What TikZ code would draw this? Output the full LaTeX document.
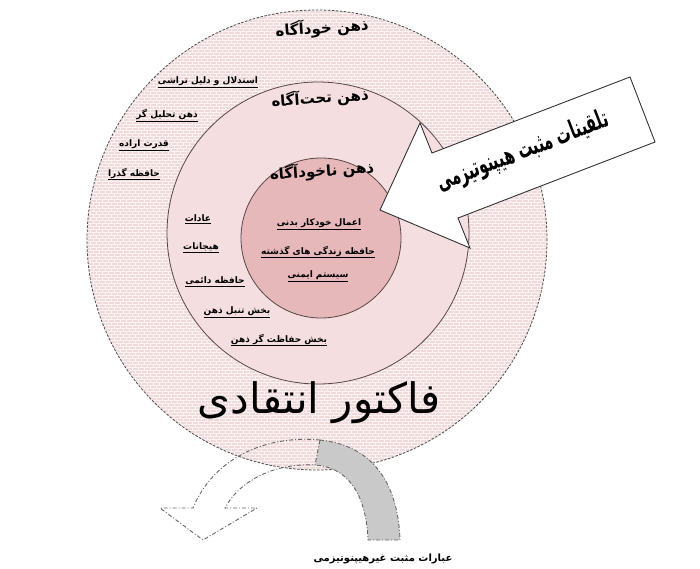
\documentclass[tikz,border=0pt]{standalone}
\usepackage{fontspec}
\usepackage{graphicx}
\usetikzlibrary{patterns}
\TeXXeTstate=1
\newfontfamily\arabicfont[Script=Arabic]{DejaVu Sans}
\newcommand\fa[1]{{\arabicfont\beginR #1\endR}}
\newcommand\ufa[1]{\underline{\hbox{\arabicfont\beginR #1\endR}}}
\pgfdeclarepatternformonly{pinkbricks}{\pgfqpoint{-1pt}{-1pt}}{\pgfqpoint{7pt}{7pt}}{\pgfqpoint{6pt}{6pt}}{%
 \pgfsetlinewidth{0.5pt}%
 \pgfpathmoveto{\pgfqpoint{0pt}{0pt}}\pgfpathlineto{\pgfqpoint{6pt}{0pt}}%
 \pgfpathmoveto{\pgfqpoint{0pt}{3pt}}\pgfpathlineto{\pgfqpoint{6pt}{3pt}}%
 \pgfpathmoveto{\pgfqpoint{0pt}{0pt}}\pgfpathlineto{\pgfqpoint{0pt}{3pt}}%
 \pgfpathmoveto{\pgfqpoint{3pt}{3pt}}\pgfpathlineto{\pgfqpoint{3pt}{6pt}}%
 \pgfusepath{stroke}}
\definecolor{outerpink}{HTML}{EFD9D9}
\definecolor{brickline}{HTML}{FBF3F3}
\definecolor{midpink}{HTML}{F4DEDF}
\definecolor{innerpink}{HTML}{E6B8BA}
\definecolor{ringline}{HTML}{5A4646}
\definecolor{bandgray}{HTML}{C9C9C9}
\tikzset{
  ringtitle/.style={font=\fontsize{15}{16}\selectfont\bfseries, inner sep=0pt},
  lab/.style={font=\fontsize{9}{10}\selectfont\bfseries, inner sep=0pt},
  dashline/.style={draw=black!70, line width=0.8pt, dash pattern=on 2.5pt off 1.5pt},
  arrowline/.style={draw=black!60, line width=0.9pt, dash pattern=on 4pt off 2pt on 1pt off 2pt},
}
\begin{document}
\begin{tikzpicture}[x=1pt,y=-1pt]
\useasboundingbox (0,0) rectangle (700,568);
\fill[white] (0,0) rectangle (700,568);
% outer circle
\coordinate (C0) at (317,240);
\fill[outerpink] (C0) circle[radius=230pt];
\fill[pattern=pinkbricks, pattern color=brickline] (C0) circle[radius=230pt];
\draw[dashline] (C0) circle[radius=230pt];
% middle circle
\coordinate (C1) at (318,233);
\draw[ringline, line width=0.8pt, fill=midpink] (C1) circle[radius=151pt];
% inner circle
\coordinate (C2) at (321,238);
\draw[ringline, line width=0.8pt, fill=innerpink] (C2) circle[radius=80pt];
% curved arrow: gray back band
\draw[arrowline, fill=bandgray] (320,440) .. controls (370,445) and (398,480) .. (400,540)
   -- (368,540) .. controls (366,490) and (345,467) .. (315,465) -- cycle;
% curved arrow: front dashed outline
\draw[arrowline] (320,440) .. controls (270,435) and (215,455) .. (193,508)
   -- (160,508) -- (203,540) -- (257,508) -- (225,508)
   .. controls (240,480) and (275,463) .. (315,465);
% callout arrow
\draw[black!80, line width=0.9pt, fill=white] (380,210) -- (420,123) -- (432,153) -- (630,77)
   -- (655,142) -- (458,218) -- (470,248) -- cycle;
\node[font=\fontsize{26}{28}\selectfont\bfseries, rotate=21, inner sep=0pt] (callout) at (523,152) {\scalebox{0.56}[1]{\fa{تلقینات مثبت هیپنوتیزمی}}};
% ring titles
\node[ringtitle, rotate=4] (t0) at (322,28) {\fa{ذهن خودآگاه}};
\node[ringtitle, rotate=4] (t1) at (320,98) {\fa{ذهن تحت‌آگاه}};
\node[ringtitle, rotate=4] (t2) at (322,171) {\fa{ذهن ناخودآگاه}};
% inner labels
\node[lab] (i1) at (319,224) {\ufa{اعمال خودکار بدنی}};
\node[lab] (i2) at (318,252) {\ufa{حافظه زندگی های گذشته}};
\node[lab] (i3) at (318,276) {\ufa{سیستم ایمنی}};
% outer ring labels
\node[lab] (o1) at (208,82) {\ufa{استدلال و دلیل تراشی}};
\node[lab] (o2) at (167,116) {\ufa{ذهن تحلیل گر}};
\node[lab] (o3) at (144,145) {\ufa{قدرت اراده}};
\node[lab] (o4) at (134,174) {\ufa{حافظه گذرا}};
% middle ring labels
\node[lab] (m1) at (198,219) {\ufa{عادات}};
\node[lab] (m2) at (201,248) {\ufa{هیجانات}};
\node[lab] (m3) at (215,282) {\ufa{حافظه دائمی}};
\node[lab] (m4) at (237,312) {\ufa{بخش تنبل ذهن}};
\node[lab] (m5) at (279,340) {\ufa{بخش حفاظت گر ذهن}};
% critical factor
\node[font=\fontsize{42}{46}\selectfont, inner sep=0pt] (cf) at (319,403) {\fa{فاکتور انتقادی}};
% bottom label
\node[font=\fontsize{10}{12}\selectfont\bfseries, inner sep=0pt] (bl) at (383,559) {\fa{عبارات مثبت غیرهیپنوتیزمی}};
\end{tikzpicture}
\end{document}
